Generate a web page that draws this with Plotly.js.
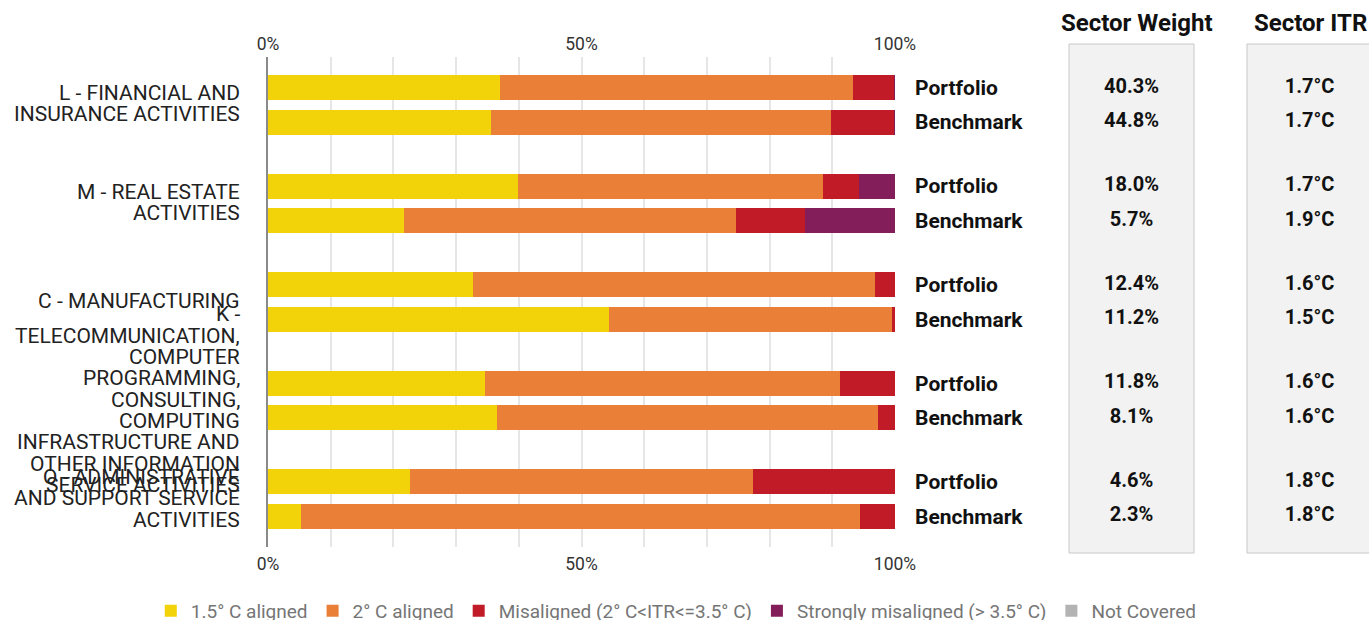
<!DOCTYPE html>
<html>
<head>
<meta charset="utf-8">
<script src="https://cdn.plot.ly/plotly-3.0.1.min.js"></script>
<style>html,body{margin:0;padding:0;background:#fff;}#chart{width:1369px;height:620px;}</style>
</head>
<body>
<div id="chart"></div>
<script>
// ---- data ----
const sectors = [
  "L - FINANCIAL AND<br>INSURANCE ACTIVITIES",
  "M - REAL ESTATE<br>ACTIVITIES",
  "C - MANUFACTURING",
  "K -<br>TELECOMMUNICATION,<br>COMPUTER<br>PROGRAMMING,<br>CONSULTING,<br>COMPUTING<br>INFRASTRUCTURE AND<br>OTHER INFORMATION<br>SERVICE ACTIVITIES",
  "Q - ADMINISTRATIVE<br>AND SUPPORT SERVICE<br>ACTIVITIES"
];
const rowLabels = ["Portfolio", "Benchmark"];
const seriesNames = ["1.5° C aligned", "2° C aligned", "Misaligned (2° C<ITR<=3.5° C)", "Strongly misaligned (> 3.5° C)", "Not Covered"];
// values per bar row: L-P, L-B, M-P, M-B, C-P, C-B, K-P, K-B, Q-P, Q-B
const aligned15   = [37.0, 35.6, 39.9, 21.7, 32.7, 54.4, 34.6, 36.5, 22.6, 5.3];
const aligned2    = [56.3, 54.2, 48.6, 52.9, 64.1, 45.1, 56.6, 60.8, 54.8, 89.1];
const misaligned  = [6.5, 10.0, 5.8, 11.0, 3.2, 0.5, 8.8, 2.7, 22.6, 5.6];
const strongMis   = [0.2, 0.2, 5.7, 14.4, 0, 0, 0, 0, 0, 0];
const notCovered  = [0, 0, 0, 0, 0, 0, 0, 0, 0, 0];
const sectorWeight = ["40.3%", "44.8%", "18.0%", "5.7%", "12.4%", "11.2%", "11.8%", "8.1%", "4.6%", "2.3%"];
const sectorITR    = ["1.7°C", "1.7°C", "1.7°C", "1.9°C", "1.6°C", "1.5°C", "1.6°C", "1.6°C", "1.8°C", "1.8°C"];
const xTickVals = [0, 10, 20, 30, 40, 50, 60, 70, 80, 90, 100];
const xTickText = ["0%", "", "", "", "", "50%", "", "", "", "", "100%"];

// ---- styling / layout helpers ----
const colors = ["#F2D208", "#EA7F38", "#C11B27", "#841E5A", "#B3B3B3"];
const GROUP_STEP = 2.855;
const W = 1369, H = 620;
const plotL = 268, plotR = 895, plotT = 57, plotB = 547;
const px = v => v / W;
const py = v => (plotB - v) / (plotB - plotT);

const positions = [];
const rowText = [];
sectors.forEach((s, g) => rowLabels.forEach((r, k) => { positions.push(g * GROUP_STEP + k); rowText.push(r); }));
const groupCenters = sectors.map((s, g) => g * GROUP_STEP + 0.5);
const yRange = [positions[positions.length - 1] + 0.884, -0.884];

const seriesVals = [aligned15, aligned2, misaligned, strongMis, notCovered];
const traces = seriesVals.map((vals, i) => ({
  type: "bar", orientation: "h", name: seriesNames[i],
  x: vals, y: positions, width: 0.725,
  marker: { color: colors[i] }, hoverinfo: "x+name"
}));
// helper traces to activate overlay axes
traces.push({ type: "scatter", x: [], y: [], xaxis: "x2", yaxis: "y", showlegend: false, hoverinfo: "skip" });
traces.push({ type: "scatter", x: [], y: [], xaxis: "x", yaxis: "y2", showlegend: false, hoverinfo: "skip" });
// table columns
const valFont = { family: "Roboto", size: 20, color: "#111", weight: 700 };
traces.push({ type: "scatter", mode: "text", x: positions.map(() => 62.5), y: positions, text: sectorWeight,
  xaxis: "x3", yaxis: "y", showlegend: false, hoverinfo: "skip", textfont: valFont });
traces.push({ type: "scatter", mode: "text", x: positions.map(() => 62.5), y: positions, text: sectorITR,
  xaxis: "x4", yaxis: "y", showlegend: false, hoverinfo: "skip", textfont: valFont });

// left labels, one annotation per line
const LINE_H = 21.3;
const annotations = [];
sectors.forEach((s, g) => {
  const lines = s.split("<br>");
  lines.forEach((ln, i) => {
    annotations.push({
      xref: "paper", yref: "y", x: px(242), y: groupCenters[g], xanchor: "right", yanchor: "middle",
      yshift: -((i - (lines.length - 1) / 2) * LINE_H) + 1, text: ln, showarrow: false,
      font: { family: "Roboto", size: 21, color: "#222" }
    });
  });
});
annotations.push({ xref: "paper", yref: "paper", x: px(1137), y: py(23), text: "Sector Weight", showarrow: false,
  xanchor: "center", yanchor: "middle", font: { family: "Roboto", size: 24, color: "#111", weight: 700 } });
annotations.push({ xref: "paper", yref: "paper", x: px(1310), y: py(23), text: "Sector ITR", showarrow: false,
  xanchor: "center", yanchor: "middle", font: { family: "Roboto", size: 24, color: "#111", weight: 700 } });

const shapes = [
  { type: "rect", xref: "paper", yref: "paper", x0: px(1069), x1: px(1194), y0: py(553), y1: py(44),
    fillcolor: "#F2F2F2", line: { color: "#C8C8C8", width: 1 }, layer: "below" },
  { type: "rect", xref: "paper", yref: "paper", x0: px(1247), x1: px(1372), y0: py(553), y1: py(44),
    fillcolor: "#F2F2F2", line: { color: "#C8C8C8", width: 1 }, layer: "below" }
];

const tickFont = { family: "Roboto", size: 17.5, color: "#333" };
const layout = {
  width: W, height: H,
  margin: { l: 0, r: 0, t: plotT, b: H - plotB, pad: 0, autoexpand: false },
  paper_bgcolor: "#fff", plot_bgcolor: "rgba(0,0,0,0)",
  barmode: "stack", bargap: 0,
  font: { family: "Roboto" },
  xaxis: { domain: [px(plotL), px(plotR)], range: [0, 100], tickmode: "array", tickvals: xTickVals, ticktext: xTickText,
    showgrid: true, gridcolor: "#E6E6E6", gridwidth: 2, zeroline: false, showline: false, ticks: "", tickfont: tickFont,
    side: "bottom", anchor: "y", fixedrange: true, ticklabelstandoff: 4 },
  xaxis2: { overlaying: "x", side: "top", range: [0, 100], tickmode: "array", tickvals: xTickVals, ticktext: xTickText,
    showgrid: false, zeroline: false, showline: false, ticks: "", tickfont: tickFont, anchor: "y", ticklabelstandoff: 3 },
  xaxis3: { domain: [px(1069), px(1194)], range: [0, 125], visible: false, anchor: "y" },
  xaxis4: { domain: [px(1247), 1], range: [0, 122], visible: false, anchor: "y" },
  yaxis: { range: yRange, tickmode: "array", tickvals: [], showgrid: false, zeroline: false,
    showline: true, linecolor: "#8A8A8A", linewidth: 2, anchor: "x", fixedrange: true },
  yaxis2: { overlaying: "y", side: "right", anchor: "x", range: yRange, tickmode: "array", tickvals: positions, ticktext: rowText,
    showgrid: false, zeroline: false, showline: false, ticks: "", ticklabelstandoff: 19,
    tickfont: { family: "Roboto", size: 21, color: "#111", weight: 700 } },
  legend: { orientation: "h", x: 0.494, xanchor: "center", y: py(592), yanchor: "top",
    font: { family: "Roboto", size: 19, color: "#757575" }, traceorder: "normal", itemwidth: 30 },
  showlegend: true,
  annotations: annotations,
  shapes: shapes
};

Plotly.newPlot("chart", traces, layout, { displayModeBar: false, staticPlot: true });
</script>
</body>
</html>
